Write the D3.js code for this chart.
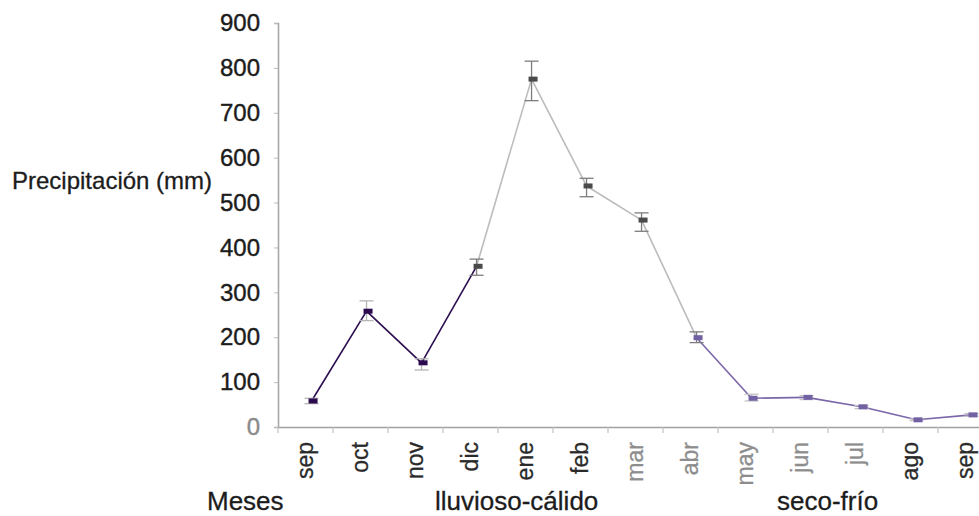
<!DOCTYPE html>
<html>
<head>
<meta charset="utf-8">
<script src="https://cdn.jsdelivr.net/npm/d3@7"></script>
<style>
  html, body { margin: 0; padding: 0; background: #fff; }
  svg { display: block; }
  text { font-family: "Liberation Sans", Arial, Helvetica, sans-serif; }
</style>
</head>
<body>
<svg id="chart" width="979" height="516"></svg>
<script>
// ---- data ----
const months = ["sep", "oct", "nov", "dic", "ene", "feb", "mar", "abr", "may", "jun", "jul", "ago", "sep"];
const precip = [58, 258, 143, 358, 775, 537, 461, 199, 64, 66, 45, 16, 27];
const errLow  = [52, 237, 127, 338, 727, 513, 436, 188, 58, 61, 41, 14, 24];
const errHigh = [64, 281, 152, 374, 815, 554, 477, 212, 73, 70, 48, 18, 30];
const yTicks = [0, 100, 200, 300, 400, 500, 600, 700, 800, 900];
const seasonLabels = ["Meses", "lluvioso-cálido", "seco-frío"];
const yTitle = "Precipitación (mm)";

// ---- layout ----
const svg = d3.select("#chart");
const x0 = 278, y0 = 427, yTop = 23;
const xBand = d3.scaleBand().domain(d3.range(months.length)).range([x0, x0 + 55 * months.length]).paddingInner(0).paddingOuter(0);
const y = d3.scaleLinear().domain([0, 900]).range([y0, yTop]);
const px = i => xBand(i) + xBand.bandwidth() * 0.61;

// segment / marker colours by phase
const segColor = i => (i < 3 ? "#2b0d4f" : i < 7 ? "#bcbcbc" : "#7a66a8");
const markColor = i => (i < 3 ? "#2b0a4e" : i < 7 ? "#4a4a4a" : "#7262a4");
const errColor = i => (i < 3 ? "#b5b5b5" : i < 8 ? "#7d7d7d" : "#c4c4c4");
const ink = "#1c1c1c";

// ---- axes ----
const yAxis = d3.axisLeft(y).tickValues(yTicks).tickSize(4).tickPadding(14);
const gy = svg.append("g").attr("transform", `translate(${x0},0)`).call(yAxis);
gy.select(".domain").attr("stroke", "#a8a8a8").attr("stroke-width", 1.6);
gy.selectAll(".tick line").attr("stroke", "#bbbbbb");
gy.selectAll(".tick text")
  .attr("font-size", 24)
  .attr("fill", d => (d === 0 ? "#8a8a8a" : ink))
  .attr("stroke", d => (d === 0 ? "#8a8a8a" : ink))
  .attr("stroke-width", 0.4)
  .attr("font-family", "Liberation Sans, Arial, sans-serif");

const xAxis = d3.axisBottom(xBand).tickSize(0).tickFormat("");
const gx = svg.append("g").attr("transform", `translate(0,${y0})`).call(xAxis);
gx.select(".domain").attr("stroke", "#a0a0a0").attr("stroke-width", 1.6);
gx.selectAll(".tick").remove();
// band boundary ticks
svg.append("g").selectAll("line")
  .data(d3.range(months.length))
  .join("line")
  .attr("x1", i => xBand(i)).attr("x2", i => xBand(i))
  .attr("y1", y0).attr("y2", y0 + 6)
  .attr("stroke", "#c2c2c2").attr("stroke-width", 1.2);

// ---- month labels ----
svg.append("g").selectAll("text")
  .data(months)
  .join("text")
  .attr("transform", (d, i) => `translate(${px(i) + 1},442) rotate(-90)`)
  .attr("text-anchor", "end")
  .attr("font-size", 23)
  .attr("fill", (d, i) => (i >= 6 && i <= 10 ? "#8d8d8d" : "#2a2a2a"))
  .attr("stroke", (d, i) => (i >= 6 && i <= 10 ? "#8d8d8d" : "#2a2a2a"))
  .attr("stroke-width", 0.3)
  .text(d => d);

// ---- line segments ----
svg.append("g").selectAll("line")
  .data(d3.range(months.length - 1))
  .join("line")
  .attr("x1", i => px(i)).attr("y1", i => y(precip[i]))
  .attr("x2", i => px(i + 1)).attr("y2", i => y(precip[i + 1]))
  .attr("stroke", segColor)
  .attr("stroke-width", 1.6);

// ---- error bars ----
const eb = svg.append("g").selectAll("g")
  .data(d3.range(months.length))
  .join("g")
  .attr("stroke", errColor)
  .attr("stroke-width", 1.3);
eb.append("line")
  .attr("x1", px).attr("x2", px)
  .attr("y1", i => y(errLow[i])).attr("y2", i => y(errHigh[i]));
eb.append("line")
  .attr("x1", i => px(i) - 7).attr("x2", i => px(i) + 7)
  .attr("y1", i => y(errLow[i])).attr("y2", i => y(errLow[i]));
eb.append("line")
  .attr("x1", i => px(i) - 7).attr("x2", i => px(i) + 7)
  .attr("y1", i => y(errHigh[i])).attr("y2", i => y(errHigh[i]));

// ---- markers ----
svg.append("g").selectAll("rect")
  .data(d3.range(months.length))
  .join("rect")
  .attr("x", i => px(i) - 3)
  .attr("y", i => y(precip[i]) - 2.5)
  .attr("width", 9).attr("height", 5)
  .attr("fill", markColor);

// ---- titles ----
svg.append("text")
  .attr("x", 12).attr("y", 189)
  .attr("font-size", 24)
  .attr("fill", ink)
  .attr("stroke", ink).attr("stroke-width", 0.3)
  .text(yTitle);

const seasonX = [207, 435, 777];
svg.append("g").selectAll("text")
  .data(seasonLabels)
  .join("text")
  .attr("x", (d, i) => seasonX[i])
  .attr("y", 510)
  .attr("font-size", 26)
  .attr("fill", ink)
  .attr("stroke", ink).attr("stroke-width", 0.3)
  .text(d => d);
</script>
</body>
</html>
